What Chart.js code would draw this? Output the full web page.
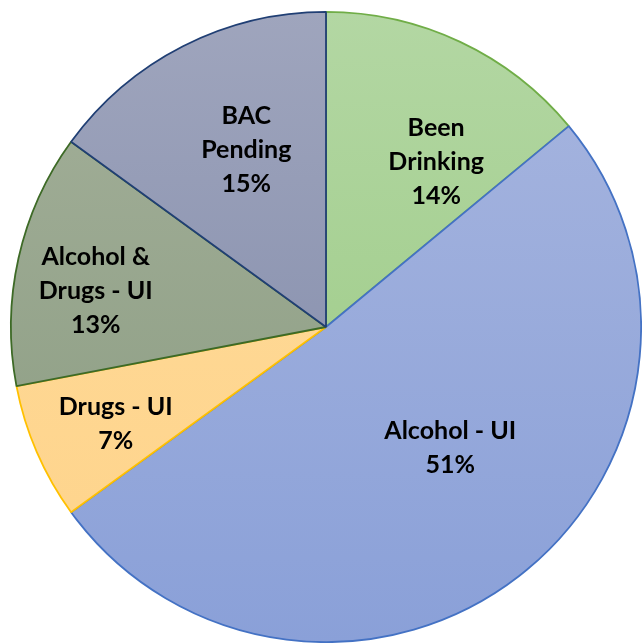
<!DOCTYPE html>
<html>
<head>
<meta charset="utf-8">
<script src="https://cdn.jsdelivr.net/npm/chart.js@4"></script>
<style>
  html, body { margin: 0; padding: 0; background: #fff; }
  #wrap { width: 642px; height: 643px; position: relative; }
</style>
</head>
<body>
<div id="wrap"><canvas id="pieChart"></canvas></div>
<script>
let categories = ["Been Drinking", "Alcohol - UI", "Drugs - UI", "Alcohol & Drugs - UI", "BAC Pending"];
let labelLines = [["Been", "Drinking"], ["Alcohol - UI"], ["Drugs - UI"], ["Alcohol &", "Drugs - UI"], ["BAC", "Pending"]];
let percents = [14, 51, 7, 13, 15];

// top / bottom colours of each slice gradient, and outline colours
let topColors = ["#b3d7a3", "#a8b6df", "#ffdc9c", "#a4b09a", "#9fa5bd"];
let bottomColors = ["#97c87f", "#8aa0d8", "#fed38a", "#889a7f", "#7d87a7"];
let borderColors = ["#70ad47", "#4472c4", "#ffc000", "#3d6a26", "#203f74"];

// label placement tweaks (fraction of radius, degrees off the mid angle)
let labelRadius = [0.63, 0.55, 0.735, 0.74, 0.615];
let labelShift = [8.5, -8, -1.4, -3.6, 2.7];

function sliceGradient(ctx) {
    let chart = ctx.chart;
    let area = chart.chartArea;
    let i = ctx.dataIndex;
    if (!area) return bottomColors[i];
    let g = chart.ctx.createLinearGradient(0, area.top, 0, area.bottom);
    g.addColorStop(0, topColors[i]);
    g.addColorStop(1, bottomColors[i]);
    return g;
}

const sliceLabels = {
    id: "sliceLabels",
    afterDatasetsDraw(chart) {
        let ctx = chart.ctx;
        let arcs = chart.getDatasetMeta(0).data;
        ctx.save();
        ctx.font = "bold 25px Lato, 'Liberation Sans', sans-serif";
        ctx.fillStyle = "#000";
        ctx.textAlign = "center";
        ctx.textBaseline = "middle";
        arcs.forEach((arc, i) => {
            let p = arc.getProps(["x", "y", "startAngle", "endAngle", "outerRadius"], true);
            let mid = (p.startAngle + p.endAngle) / 2 + labelShift[i] * Math.PI / 180;
            let r = p.outerRadius * labelRadius[i];
            let cx = p.x + Math.cos(mid) * r;
            let cy = p.y + Math.sin(mid) * r;
            let lines = labelLines[i].concat([percents[i] + "%"]);
            let lh = 34;
            let y0 = cy - (lines.length - 1) * lh / 2;
            lines.forEach((t, k) => ctx.fillText(t, cx, y0 + k * lh));
        });
        ctx.restore();
    }
};

new Chart(document.getElementById("pieChart"), {
    type: "pie",
    data: {
        labels: categories,
        datasets: [{
            data: percents,
            backgroundColor: sliceGradient,
            borderColor: borderColors,
            borderWidth: 1.8
        }]
    },
    options: {
        responsive: true,
        maintainAspectRatio: false,
        animation: false,
        layout: { padding: { left: 10, top: 11, right: 0, bottom: 0 } },
        plugins: {
            legend: { display: false },
            tooltip: { enabled: false }
        }
    },
    plugins: [sliceLabels]
});
</script>
</body>
</html>
